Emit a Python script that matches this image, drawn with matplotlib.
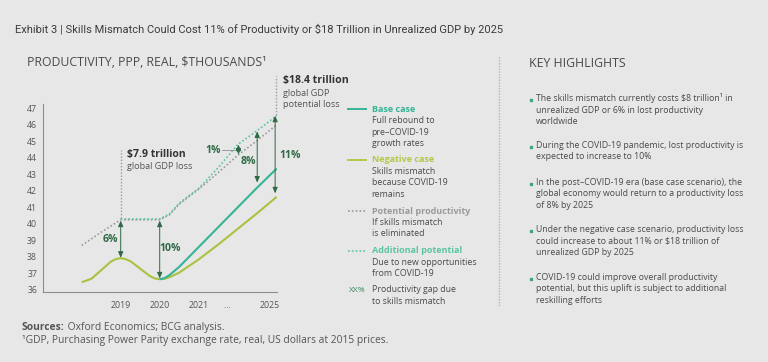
import matplotlib
matplotlib.use("Agg")
import matplotlib.pyplot as plt
import numpy as np

# x positions: 2019 = 1, 2020 = 2, 2021 = 3, axis compressed after 2021
neg_x = [0, 0.25, 0.5, 0.75, 0.875, 1, 1.125, 1.25, 1.5, 1.75, 1.875, 2, 2.125, 2.25, 2.5, 2.75, 3, 3.5, 4, 4.5, 5]
neg_y = [36.47, 36.68, 37.2, 37.72, 37.87, 37.93, 37.87, 37.74, 37.29, 36.84, 36.7, 36.65, 36.68, 36.77, 37.05, 37.45, 37.85, 38.75, 39.7, 40.65, 41.64]

base_x = [2, 2.125, 2.25, 2.5, 3, 3.5, 4, 4.5, 5]
base_y = [36.65, 36.72, 36.9, 37.4, 38.6, 39.8, 41.0, 42.2, 43.35]

pot_x = [0, 0.5, 1, 1.5, 2, 2.25, 2.5, 2.75, 3, 3.5, 4, 4.5, 5]
pot_y = [38.7, 39.5, 40.25, 40.25, 40.25, 40.55, 41.2, 41.65, 42.1, 43.1, 44.15, 45.05, 46.0]

add_x = [1, 1.5, 2, 2.25, 2.5, 2.75, 3, 3.5, 4, 4.5, 5]
add_y = [40.3, 40.3, 40.3, 40.6, 41.25, 41.7, 42.15, 43.4, 44.8, 45.65, 46.55]

tick_pos = [1, 2, 3, 3.72, 4.81]
tick_labels = ["2019", "2020", "2021", "…", "2025"]

# productivity gap arrows: x, top, bottom, label, label x, label y
gap_x = [1, 2, 4.02, 4.5, 4.96]
gap_top = [40.2, 40.2, 44.8, 45.6, 46.55]
gap_bottom = [37.95, 36.7, 44.2, 42.5, 41.85]
gap_labels = ["6%", "10%", "1%", "8%", "11%"]
gap_lx = [0.73, 2.28, 3.37, 4.27, 5.34]
gap_ly = [39.03, 38.5, 44.45, 43.77, 44.17]

highlights = [
    "The skills mismatch currently costs $8 trillion¹ in\nunrealized GDP or 6% in lost productivity\nworldwide",
    "During the COVID-19 pandemic, lost productivity is\nexpected to increase to 10%",
    "In the post–COVID-19 era (base case scenario), the\nglobal economy would return to a productivity loss\nof 8% by 2025",
    "Under the negative case scenario, productivity loss\ncould increase to about 11% or $18 trillion of\nunrealized GDP by 2025",
    "COVID-19 could improve overall productivity\npotential, but this uplift is subject to additional\nreskilling efforts",
]
highlight_y = [99, 146.7, 183.3, 230.3, 278.3]

BG = "#e7e7e7"
TEAL = "#35b497"
OLIVE = "#a9c23f"
GREY = "#9a9a9a"
TEAL_DOT = "#5cc4a4"
DKGREEN = "#2d6a44"
TXT = "#4a4a4a"

plt.rcParams["font.family"] = ["Open Sans", "DejaVu Sans"]

W, H = 768, 362
fig = plt.figure(figsize=(W / 100, H / 100), dpi=100, facecolor=BG)


def fx(px):
    return px / W


def fy(py):
    return 1 - py / H


# axes placed in pixel space
left, right, bottom, top = 42.7, 276.7, 292.3, 75.2
ax = fig.add_axes([fx(left), fy(bottom), fx(right - left), (bottom - top) / H])
ax.set_facecolor(BG)
ax.set_xlim(-1, 5)
ax.set_ylim(35.86, 49)

ax.plot(pot_x, pot_y, color=GREY, lw=1.2, ls=(0, (1, 1.3)))
ax.plot(add_x, add_y, color=TEAL_DOT, lw=1.2, ls=(0, (1, 1.3)))
ax.plot(neg_x, neg_y, color=OLIVE, lw=1.5, solid_capstyle="butt")
ax.plot(base_x, base_y, color=TEAL, lw=1.5, solid_capstyle="butt")

for x, t, b, lab, lx, ly in zip(gap_x, gap_top, gap_bottom, gap_labels, gap_lx, gap_ly):
    ax.annotate("", xy=(x, t), xytext=(x, b),
                arrowprops=dict(arrowstyle="<|-|>,head_length=0.35,head_width=0.15",
                                color=DKGREEN, lw=0.7, shrinkA=0, shrinkB=0))
    ax.text(lx, ly, lab, color=DKGREEN, fontsize=7.5, fontweight="bold",
            ha="center", va="center", clip_on=False)
# leader for the 1% label
ax.plot([3.6, 3.95], [44.5, 44.5], color=GREY, lw=0.7)

# GDP loss annotations
ax.plot([1, 1], [40.35, 44.5], color=GREY, lw=1.0, ls=(0, (1, 1.3)))
ax.text(1.15, 44.2, "$7.9 trillion", color="#333333", fontsize=7.5,
        fontweight="bold", va="center")
ax.text(1.15, 43.5, "global GDP loss", color="#555555", fontsize=6.6, va="center")

ax.plot([4.97, 4.97], [46.6, 48.97], color=GREY, lw=1.0, ls=(0, (1, 1.3)), clip_on=False)
ax.text(5.15, 48.65, "$18.4 trillion", color="#333333", fontsize=7.6,
        fontweight="bold", va="center", clip_on=False)
ax.text(5.15, 47.9, "global GDP", color="#555555", fontsize=6.6, va="center", clip_on=False)
ax.text(5.15, 47.2, "potential loss", color="#555555", fontsize=6.6, va="center", clip_on=False)

ax.set_yticks(range(36, 48))
ax.set_xticks(tick_pos)
ax.set_xticklabels(tick_labels)
ax.tick_params(axis="both", length=0, labelsize=6.3, labelcolor="#555555")
ax.tick_params(axis="y", pad=4)
ax.tick_params(axis="x", pad=6)
for s in ["top", "right"]:
    ax.spines[s].set_visible(False)
for s in ["left", "bottom"]:
    ax.spines[s].set_color("#8c8c8c")
    ax.spines[s].set_linewidth(0.8)
ax.spines["left"].set_bounds(35.86, 47.25)

# title and headers
fig.text(fx(15), fy(29.3),
         "Exhibit 3 | Skills Mismatch Could Cost 11% of Productivity or $18 Trillion in Unrealized GDP by 2025",
         family=["Roboto", "DejaVu Sans"], fontsize=8.0, color="#3c3c3c", va="center")
fig.text(fx(26.7), fy(62.7), "PRODUCTIVITY, PPP, REAL, $THOUSANDS¹", fontsize=8.8,
         color="#4a4a4a", va="center")
fig.text(fx(529.3), fy(63.3), "KEY HIGHLIGHTS", fontsize=8.8, color="#4a4a4a", va="center")

# legend
legend_items = [
    ("Base case", TEAL, "-", ["Full rebound to", "pre–COVID-19", "growth rates"], 109.3),
    ("Negative case", "#b2c84c", "-", ["Skills mismatch", "because COVID-19", "remains"], 160),
    ("Potential productivity", GREY, ":", ["If skills mismatch", "is eliminated"], 211),
    ("Additional potential", TEAL_DOT, ":", ["Due to new opportunities", "from COVID-19"], 250.7),
]
line_gap = 11.4
for name, col, ls, lines, y0 in legend_items:
    lstyle = "-" if ls == "-" else (0, (1, 1.3))
    fig.add_artist(plt.Line2D([fx(348), fx(366)], [fy(y0), fy(y0)], color=col,
                              lw=1.4 if ls == "-" else 1.2, ls=lstyle))
    fig.text(fx(371.7), fy(y0), name, color=col, fontsize=6.5, fontweight="bold", va="center")
    for i, ln in enumerate(lines):
        fig.text(fx(371.7), fy(y0 + line_gap * (i + 1)), ln, color=TXT, fontsize=6.3, va="center")
fig.text(fx(357), fy(290), "XX%", color="#3a8a60", fontsize=6.0, va="center", ha="center")
fig.text(fx(371.7), fy(290), "Productivity gap due", color=TXT, fontsize=6.3, va="center")
fig.text(fx(371.7), fy(301.7), "to skills mismatch", color=TXT, fontsize=6.3, va="center")

# separator
fig.add_artist(plt.Line2D([fx(499), fx(499)], [fy(56.7), fy(306.7)], color="#b5b5b5",
                          lw=1.0, ls=(0, (1, 1))))

# highlights
for txt, y0 in zip(highlights, highlight_y):
    fig.add_artist(plt.Line2D([fx(530.5)], [fy(y0 + 0.5)], marker="s", markersize=1.7,
                              color="#3fa67a", lw=0))
    fig.text(fx(535.7), fy(y0 - 5.7), txt, color=TXT, fontsize=6.3, va="top",
             linespacing=1.35)

# sources
src = fig.text(fx(22), fy(327.7), "Sources:", fontsize=7.4, fontweight="bold",
               color="#555555", va="center")
ax.annotate(" Oxford Economics; BCG analysis.", xy=(1, 0.5), xycoords=src,
            fontsize=7.4, color="#555555", va="center", ha="left", annotation_clip=False)
fig.text(fx(22), fy(340), "¹GDP, Purchasing Power Parity exchange rate, real, US dollars at 2015 prices.",
         fontsize=7.4, color="#555555", va="center")

fig.savefig("out.png", dpi=100, facecolor=BG)
